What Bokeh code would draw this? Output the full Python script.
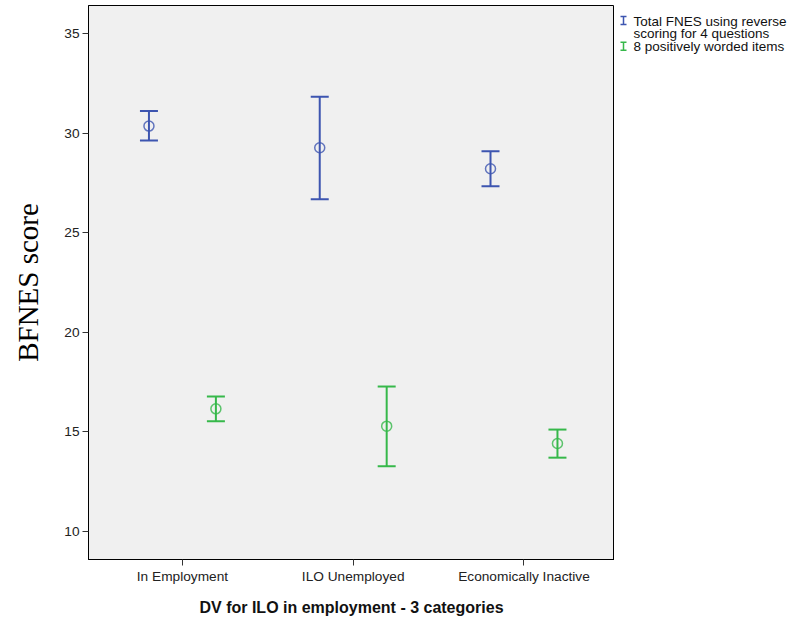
from bokeh.plotting import figure
from bokeh.layouts import row
from bokeh.models import ColumnDataSource, Whisker, TeeHead, FixedTicker, Range1d
from bokeh.core.properties import value
from bokeh.embed import file_html
from bokeh.resources import INLINE

categories = ["In Employment", "ILO Unemployed", "Economically Inactive"]
series_names = ["Total FNES using reverse\nscoring for 4 questions", "8 positively worded items"]
total_mean = [30.35, 29.26, 28.21]
total_lower = [29.63, 26.68, 27.33]
total_upper = [31.10, 31.82, 29.09]
pos_mean = [16.16, 15.29, 14.42]
pos_lower = [15.54, 13.28, 13.71]
pos_upper = [16.78, 17.28, 15.12]
y_ticks = [10, 15, 20, 25, 30, 35]

BLUE = "#3d55b0"
GREEN = "#36b84a"
FONT = "Liberation Sans"

p = figure(width=614, height=624, output_backend="svg", toolbar_location=None,
           x_range=Range1d(-0.55, 2.53), y_range=Range1d(8.6, 36.4),
           min_border_left=88, min_border_right=0, min_border_top=5, min_border_bottom=65)
p.background_fill_color = "#f0f0f0"
p.border_fill_color = "white"
p.outline_line_color = "black"
p.outline_line_width = 1
p.grid.visible = False

offset = 0.196
series = [
    (total_mean, total_lower, total_upper, BLUE, -offset),
    (pos_mean, pos_lower, pos_upper, GREEN, offset),
]
for mean, lo, hi, col, off in series:
    xs = [i + off for i in range(len(categories))]
    src = ColumnDataSource(dict(x=xs, mean=mean, lower=lo, upper=hi))
    w = Whisker(source=src, base="x", lower="lower", upper="upper", dimension="height",
                line_color=col, line_width=2,
                upper_head=TeeHead(size=18, line_color=col, line_width=2),
                lower_head=TeeHead(size=18, line_color=col, line_width=2))
    p.add_layout(w)
    p.scatter("x", "mean", source=src, marker="circle", size=10, fill_color=None,
              line_color=col, line_width=1.5, line_alpha=0.8)

p.xaxis.ticker = FixedTicker(ticks=list(range(len(categories))))
p.xaxis.major_label_overrides = {i: c for i, c in enumerate(categories)}
p.yaxis.ticker = FixedTicker(ticks=y_ticks)
for ax in (p.xaxis[0], p.yaxis[0]):
    ax.minor_tick_line_color = None
    ax.major_tick_in = 0
    ax.major_tick_out = 6
    ax.major_tick_line_color = "#333333"
    ax.axis_line_color = "black"
    ax.major_label_text_font = FONT
    ax.major_label_text_font_size = "13.7px"
    ax.major_label_text_color = "#222222"
    ax.major_label_standoff = 3

p.xaxis.axis_label = "DV for ILO in employment - 3 categories"
p.xaxis.axis_label_text_font = FONT
p.xaxis.axis_label_text_font_style = "bold"
p.xaxis.axis_label_text_font_size = "16px"
p.xaxis.axis_label_text_color = "#111111"
p.xaxis.axis_label_standoff = 12

p.yaxis.axis_label = "BFNES score"
p.yaxis.axis_label_text_font = "Liberation Serif"
p.yaxis.axis_label_text_font_style = "normal"
p.yaxis.axis_label_text_font_size = "29px"
p.yaxis.axis_label_text_color = "black"
p.yaxis.axis_label_standoff = 17

# legend panel to the right of the plot (pixel-like coordinates, y downward)
lg = figure(width=182, height=624, output_backend="svg", toolbar_location=None,
            x_range=Range1d(0, 182), y_range=Range1d(624, 0),
            min_border=0, outline_line_color=None)
lg.axis.visible = False
lg.grid.visible = False
lg.background_fill_color = "white"
lg.border_fill_color = "white"

label_lines = series_names[0].split("\n") + [series_names[1]]
lg.text(x=[19, 19, 19], y=[18, 31, 46], text=label_lines,
        text_font=value(FONT), text_font_size="13.5px", text_color="#111111",
        text_baseline="middle", text_align="left")
icon_cols = [BLUE, GREEN]
icon_y = [17, 46]
lg.segment(x0=[9, 9], y0=[yy - 4.5 for yy in icon_y], x1=[9, 9], y1=[yy + 4.5 for yy in icon_y],
           line_color=icon_cols, line_width=1.5)
lg.segment(x0=[6, 6, 6, 6], y0=[icon_y[0] - 4.5, icon_y[0] + 4.5, icon_y[1] - 4.5, icon_y[1] + 4.5],
           x1=[12, 12, 12, 12], y1=[icon_y[0] - 4.5, icon_y[0] + 4.5, icon_y[1] - 4.5, icon_y[1] + 4.5],
           line_color=[BLUE, BLUE, GREEN, GREEN], line_width=1.5)

layout = row(p, lg, spacing=0)
open("out.html", "w").write(file_html(layout, INLINE))
